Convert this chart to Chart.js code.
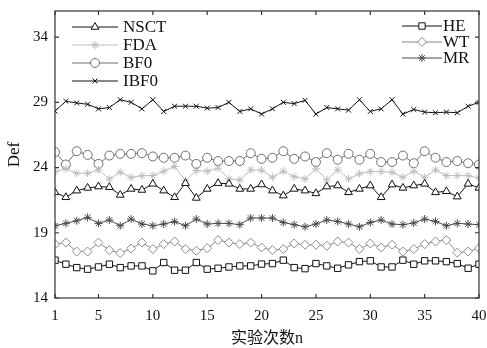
<!DOCTYPE html>
<html>
<head>
<meta charset="utf-8">
<script src="https://cdn.jsdelivr.net/npm/chart.js"></script>
<style>
  html, body { margin: 0; padding: 0; background: #fff; }
  canvas { display: block; }
</style>
</head>
<body>
<canvas id="defChart" width="487" height="348"></canvas>
<script>
// --- data ---
const runs = Array.from({ length: 40 }, (_, i) => i + 1);
const xTicks = [1, 5, 10, 15, 20, 25, 30, 35, 40];
const yTicks = [14, 19, 24, 29, 34];

const nsct = [22.1, 21.72, 22.23, 22.44, 22.54, 22.49, 21.9, 22.36, 22.28, 22.75, 22.23, 21.72, 22.8, 21.67, 22.36, 22.8, 22.75, 22.36, 22.36, 22.7,
              22.23, 21.85, 22.36, 22.23, 22.02, 22.54, 22.62, 22.1, 22.36, 22.62, 21.72, 22.69, 22.44, 22.62, 22.75, 22.1, 22.18, 21.77, 22.75, 22.44];
const fda = [23.69, 23.9, 23.56, 23.56, 23.82, 23.13, 23.64, 23.25, 23.38, 23.38, 23.72, 24.08, 23.0, 23.77, 23.72, 23.95, 23.13, 23.05, 23.82, 23.8,
             23.25, 23.72, 23.3, 23.13, 23.9, 23.05, 23.82, 23.13, 23.52, 23.69, 23.69, 23.64, 23.25, 23.72, 23.25, 23.82, 23.38, 23.38, 23.38, 23.2];
const bf0 = [25.18, 24.23, 25.25, 24.97, 24.28, 24.92, 25.05, 25.05, 25.1, 24.85, 24.75, 24.75, 24.92, 24.28, 24.75, 24.5, 24.5, 24.5, 25.1, 24.67,
             24.75, 25.25, 24.67, 24.85, 24.42, 25.1, 24.6, 25.05, 24.6, 25.05, 24.42, 24.42, 24.92, 24.33, 25.25, 24.75, 24.42, 24.5, 24.33, 24.23];
const ibf0 = [28.33, 29.08, 28.95, 28.85, 28.5, 28.6, 29.2, 29.0, 28.5, 29.2, 28.3, 28.7, 28.7, 28.7, 28.55, 28.6, 29.0, 28.3, 28.5, 28.1,
              28.5, 29.0, 28.9, 29.15, 28.1, 28.6, 28.5, 28.4, 29.2, 28.3, 28.5, 29.2, 28.1, 28.45, 28.25, 28.2, 28.25, 28.2, 28.7, 29.0];
const he = [16.9, 16.59, 16.33, 16.21, 16.38, 16.59, 16.33, 16.46, 16.46, 16.08, 16.72, 16.13, 16.13, 16.72, 16.21, 16.28, 16.38, 16.46, 16.46, 16.6,
            16.64, 16.9, 16.33, 16.25, 16.64, 16.46, 16.28, 16.54, 16.79, 16.85, 16.38, 16.38, 16.9, 16.59, 16.85, 16.85, 16.79, 16.64, 16.28, 16.59];
const wt = [18.13, 18.25, 17.56, 17.56, 18.25, 17.67, 17.44, 17.79, 18.25, 17.75, 18.13, 18.33, 17.75, 17.62, 17.82, 18.44, 18.25, 18.13, 18.25, 17.87,
            17.67, 17.75, 18.18, 18.08, 18.08, 18.0, 18.33, 18.25, 17.75, 18.18, 17.87, 18.08, 17.56, 17.75, 18.13, 18.33, 18.44, 17.48, 17.56, 17.82];
const mr = [19.54, 19.72, 19.92, 20.18, 19.72, 19.98, 19.54, 20.05, 19.67, 19.54, 19.67, 19.85, 19.54, 20.05, 19.67, 19.72, 19.72, 19.62, 20.13, 20.13,
            20.13, 19.79, 19.62, 19.46, 19.67, 19.98, 19.87, 19.67, 19.46, 19.79, 19.98, 19.67, 19.62, 19.75, 20.05, 19.87, 19.54, 19.72, 19.67, 19.62];

const serif = "'Liberation Serif', 'Noto Sans CJK SC', serif";

function series(label, values, color, pointStyle, radius, group) {
    return {
        label: label,
        data: values.map((v, i) => ({ x: runs[i], y: v })),
        borderColor: color,
        borderWidth: 1,
        pointStyle: pointStyle,
        pointRadius: radius,
        pointBorderColor: color,
        pointBackgroundColor: '#fff',
        pointBorderWidth: 1,
        tension: 0,
        legendGroup: group
    };
}

const datasets = [
    series('NSCT', nsct, '#111', 'triangle', 4.5, 'left'),
    series('FDA', fda, '#bdbdbd', 'star', 4, 'left'),
    series('BF0', bf0, '#6e6e6e', 'circle', 4.5, 'left'),
    series('IBF0', ibf0, '#111', 'crossRot', 3.5, 'left'),
    series('HE', he, '#111', 'rect', 4.5, 'right'),
    series('WT', wt, '#8a8a8a', 'rectRot', 4.5, 'right'),
    series('MR', mr, '#4a4a4a', 'star', 4, 'right')
];

// frame, inward ticks and the two legend boxes
const framePlugin = {
    id: 'frame',
    afterDraw(chart) {
        const ctx = chart.ctx;
        const a = chart.chartArea;
        const x = chart.scales.x, y = chart.scales.y;
        ctx.save();
        ctx.strokeStyle = '#333';
        ctx.lineWidth = 1.2;
        ctx.strokeRect(a.left, a.top, a.right - a.left, a.bottom - a.top);
        ctx.beginPath();
        xTicks.forEach(v => {
            const px = x.getPixelForValue(v);
            ctx.moveTo(px, a.bottom); ctx.lineTo(px, a.bottom - 4);
            ctx.moveTo(px, a.top); ctx.lineTo(px, a.top + 4);
        });
        yTicks.forEach(v => {
            const py = y.getPixelForValue(v);
            ctx.moveTo(a.left, py); ctx.lineTo(a.left + 4, py);
            ctx.moveTo(a.right, py); ctx.lineTo(a.right - 4, py);
        });
        ctx.stroke();

        ctx.font = '17px ' + serif;
        ctx.textBaseline = 'middle';
        ctx.textAlign = 'left';
        const draw = (ds, x0, x1, yy, tx) => {
            ctx.strokeStyle = ds.borderColor;
            ctx.lineWidth = 1;
            ctx.beginPath();
            ctx.moveTo(x0, yy); ctx.lineTo(x1, yy);
            ctx.stroke();
            ctx.fillStyle = '#fff';
            ctx.strokeStyle = ds.borderColor;
            Chart.helpers.drawPoint(ctx, {
                pointStyle: ds.pointStyle,
                radius: ds.pointRadius,
                rotation: 0,
                borderWidth: 1
            }, (x0 + x1) / 2, yy);
            ctx.fillStyle = '#111';
            ctx.fillText(ds.label, tx, yy + 1);
        };
        let li = 0, ri = 0;
        chart.data.datasets.forEach(ds => {
            if (ds.legendGroup === 'left') {
                draw(ds, 72, 118, 27 + li * 18, 123);
                li++;
            } else {
                draw(ds, 402, 442, 26 + ri * 16, 443);
                ri++;
            }
        });
        ctx.restore();
    }
};

new Chart(document.getElementById('defChart'), {
    type: 'line',
    data: { datasets: datasets },
    options: {
        responsive: false,
        animation: false,
        layout: { padding: { top: 11, right: 8, left: 0, bottom: 0 } },
        plugins: {
            legend: { display: false },
            tooltip: { enabled: false }
        },
        scales: {
            x: {
                type: 'linear',
                min: 1,
                max: 40,
                afterBuildTicks: scale => { scale.ticks = xTicks.map(v => ({ value: v })); },
                afterFit: scale => { scale.height = 50; scale.paddingLeft = 0; scale.paddingRight = 0; },
                grid: { display: false, drawTicks: false },
                border: { display: false },
                ticks: { color: '#111', padding: 9, maxRotation: 0, autoSkip: false,
                         font: { family: serif, size: 15 } },
                title: { display: true, text: '实验次数n', color: '#111',
                         padding: { top: 0, bottom: 0 },
                         font: { family: serif, size: 16, weight: 'normal' } }
            },
            y: {
                min: 14,
                max: 36,
                afterBuildTicks: scale => { scale.ticks = yTicks.map(v => ({ value: v })); },
                afterFit: scale => { scale.width = 55; scale.paddingTop = 0; scale.paddingBottom = 0; },
                grid: { display: false, drawTicks: false },
                border: { display: false },
                ticks: { color: '#111', padding: 7, font: { family: serif, size: 15 } },
                title: { display: true, text: 'Def', color: '#111',
                         padding: { top: 4, bottom: 0 },
                         font: { family: serif, size: 17, weight: 'normal' } }
            }
        }
    },
    plugins: [framePlugin]
});
</script>
</body>
</html>
